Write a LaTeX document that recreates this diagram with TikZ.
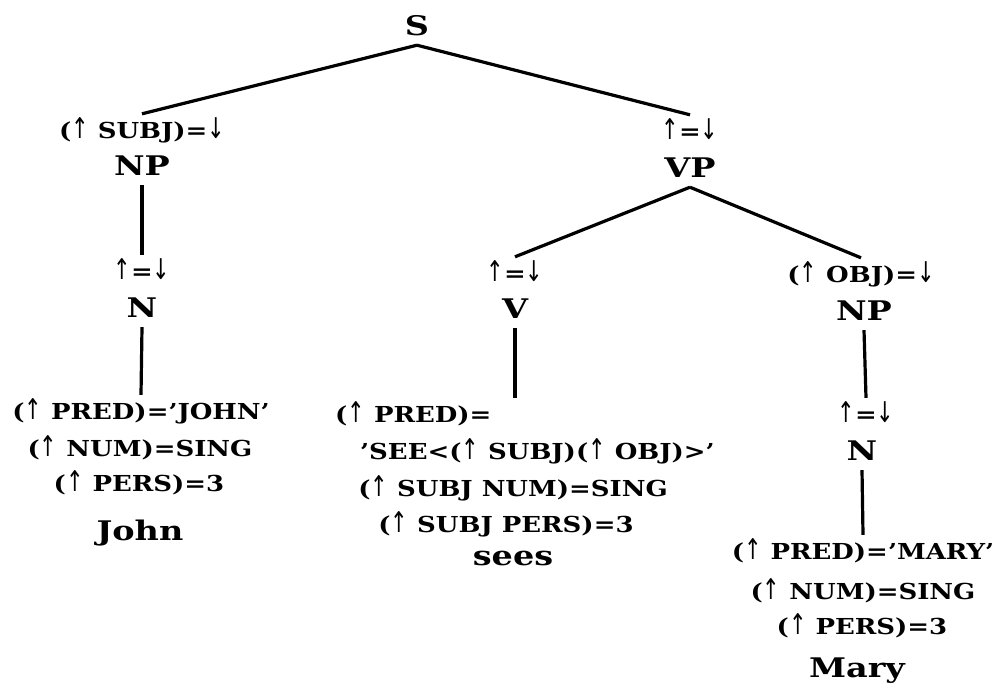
\documentclass[tikz,border=0pt]{standalone}
\usepackage{fontspec}
\usepackage{graphicx}
\setmainfont{DejaVu Serif}
\newfontfamily\annfont{DejaVu Serif}[FakeStretch=1.18]
\newfontfamily\catfont{DejaVu Serif}[FakeStretch=1.24]
\newfontfamily\arrfont{DejaVu Sans}
\newcommand\upa{\scalebox{0.95}[1.3]{\arrfont\mdseries ↑}}
\newcommand\dna{\scalebox{0.95}[1.3]{\arrfont\mdseries ↓}}
\begin{document}
\begin{tikzpicture}[x=1pt,y=-1pt,
  cat/.style={font=\catfont\fontsize{27}{27}\selectfont\bfseries, anchor=base, inner xsep=0pt, inner ysep=10pt, text height=19pt, text depth=0pt},
  ann/.style={font=\annfont\fontsize{22}{22}\selectfont\bfseries, anchor=base, inner xsep=0pt, inner ysep=8pt, text height=16pt, text depth=4pt},
  feat/.style={ann},
  word/.style={font=\catfont\fontsize{27}{27}\selectfont\bfseries, anchor=base, inner sep=0pt},
  edge/.style={line width=3.2pt}]
\useasboundingbox (0,0) rectangle (1000,697);
% root
\node[cat] (S) at (417,35) {S};
% left branch
\node[ann] (subj) at (142,138) {(\upa\ SUBJ)=\dna};
\node[cat] (np1) at (142,175) {NP};
\node[ann] (a2) at (142,279) {\upa=\dna};
\node[cat] (n1) at (142,317) {N};
\node[feat] (j1) at (141,419) {(\upa\ PRED)=’JOHN’};
\node[feat] (j2) at (140,456) {(\upa\ NUM)=SING};
\node[feat] (j3) at (139,491) {(\upa\ PERS)=3};
\node[word] (john) at (140,540) {John};
% VP
\node[ann] (vpa) at (690,139) {\upa=\dna};
\node[cat] (vp) at (690,177) {VP};
% V
\node[ann] (va) at (515,281) {\upa=\dna};
\node[cat] (v) at (515,318) {V};
\node[feat, anchor=base west] (vpred) at (335,422) {(\upa\ PRED)=};
\node[feat, anchor=base west] (vsee) at (360,459) {’SEE<(\upa\ SUBJ)(\upa\ OBJ)>’};
\node[feat] (vnum) at (513,496) {(\upa\ SUBJ NUM)=SING};
\node[feat] (vpers) at (506,532) {(\upa\ SUBJ PERS)=3};
\node[word] (sees) at (513,565) {sees};
% object NP
\node[ann] (oa) at (861,282) {(\upa\ OBJ)=\dna};
\node[cat] (np2) at (864,320) {NP};
\node[ann] (na) at (866,422) {\upa=\dna};
\node[cat] (n2) at (862,460) {N};
\node[feat] (m1) at (863,559) {(\upa\ PRED)=’MARY’};
\node[feat] (m2) at (863,599) {(\upa\ NUM)=SING};
\node[feat] (m3) at (862,634) {(\upa\ PERS)=3};
\node[word] (mary) at (857,677) {Mary};
% edges
\draw[edge] (S.south) -- (subj.north);
\draw[edge] (S.south) -- (vpa.north);
\draw[edge] (np1.south) -- (a2.north);
\draw[edge] (n1.south) -- (j1.north);
\draw[edge] (vp.south) -- (va.north);
\draw[edge] (vp.south) -- (oa.north);
\draw[edge] (v.south) -- (v.south |- vpred.north);
\draw[edge] (np2.south) -- (na.north);
\draw[edge] (n2.south) -- (m1.north);
\end{tikzpicture}
\end{document}
